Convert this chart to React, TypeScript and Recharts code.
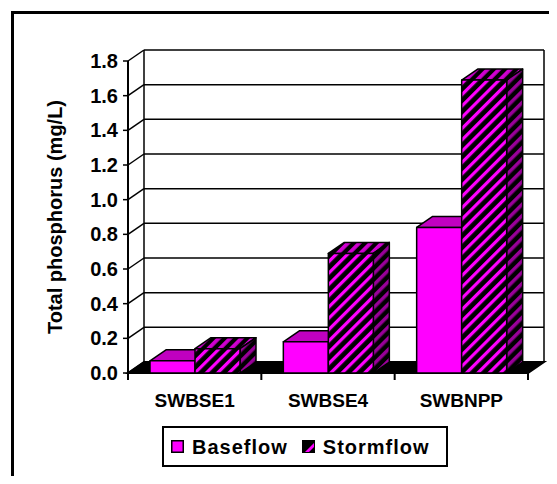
import {
  BarChart, Bar, XAxis, YAxis, CartesianGrid, ReferenceArea, Legend,
} from 'recharts';

// ── Data ──────────────────────────────────────────────────────────────────────

const sites = ['SWBSE1', 'SWBSE4', 'SWBNPP'];
const baseflow = [0.07, 0.18, 0.84];
const stormflow = [0.14, 0.69, 1.69];
const yTicks = [0, 0.2, 0.4, 0.6, 0.8, 1.0, 1.2, 1.4, 1.6, 1.8];

const data = sites.map((site, i) => ({
  site,
  baseflow: baseflow[i],
  stormflow: stormflow[i],
}));

const SERIES = [
  { key: 'baseflow', label: 'Baseflow' },
  { key: 'stormflow', label: 'Stormflow' },
];

// ── Styling ───────────────────────────────────────────────────────────────────

// offset of the back plane (pseudo 3D depth)
const DX = 16;
const DY = -11;

const FONT = '"Liberation Sans", Arial, Helvetica, sans-serif';
const MAGENTA = '#FF00FF';
const MAGENTA_DARK = '#C000C0';

// ── 3D bar shapes ─────────────────────────────────────────────────────────────

const block = (x: number, y: number, w: number, h: number, front: string, top: string, side: string) => {
  const line = { stroke: '#000', strokeWidth: 1.5, strokeLinejoin: 'round' as const };
  return (
    <g>
      <polygon
        points={`${x},${y} ${x + DX},${y + DY} ${x + w + DX},${y + DY} ${x + w},${y}`}
        fill={top}
        {...line}
      />
      <polygon
        points={`${x + w},${y} ${x + w + DX},${y + DY} ${x + w + DX},${y + h + DY} ${x + w},${y + h}`}
        fill={side}
        {...line}
      />
      <rect x={x} y={y} width={w} height={h} fill={front} {...line} />
    </g>
  );
};

const BaseBar = (p: any) =>
  block(p.x, p.y, p.width, p.height, MAGENTA, MAGENTA_DARK, MAGENTA_DARK);

const StormBar = (p: any) =>
  block(p.x, p.y, p.width, p.height, 'url(#hatchFront)', 'url(#hatchTop)', 'url(#hatchSide)');

// ── Back wall, floor and category ticks ───────────────────────────────────────

const WallFrame = (p: any) => {
  const { x, y, width, height } = p;
  const bottom = y + height;
  const n = sites.length;
  const edge = { stroke: '#000', strokeWidth: 1.5 };
  return (
    <g>
      <line x1={x + DX} y1={y + DY} x2={x + DX} y2={bottom + DY} {...edge} />
      <line x1={x + width + DX} y1={y + DY} x2={x + width + DX} y2={bottom + DY} {...edge} />
      <polygon
        points={`${x},${bottom} ${x + DX},${bottom + DY} ${x + width + DX},${bottom + DY} ${x + width},${bottom}`}
        fill="#000"
        stroke="#000"
        strokeWidth={2}
      />
      {Array.from({ length: n + 1 }, (_, i) => {
        const tx = x + (i * width) / n;
        return <line key={i} x1={tx} y1={bottom} x2={tx} y2={bottom + 7} stroke="#000" strokeWidth={2} />;
      })}
    </g>
  );
};

// gridline on the back wall plus the diagonal from the front axis
const GridLine = (p: any) => {
  const { x1, y1, x2 } = p;
  return (
    <g key={p.key}>
      <line x1={x1} y1={y1} x2={x1 + DX} y2={y1 + DY} stroke="#000" strokeWidth={1.5} />
      <line x1={x1 + DX} y1={y1 + DY} x2={x2 + DX} y2={y1 + DY} stroke="#000" strokeWidth={1.5} />
    </g>
  );
};

// ── Axis labels and legend ────────────────────────────────────────────────────

const SiteTick = (p: any) => (
  <text
    x={p.x}
    y={p.y + 34}
    textAnchor="middle"
    fontFamily={FONT}
    fontWeight="bold"
    fontSize={19}
    fill="#000"
  >
    {p.payload.value}
  </text>
);

const YTitle = (p: any) => {
  const vb = p.viewBox ?? { x: 40, y: 61, width: 88, height: 312 };
  const cx = vb.x + 15;
  const cy = vb.y + vb.height / 2;
  return (
    <text
      x={cx}
      y={cy}
      transform={`rotate(-90 ${cx} ${cy})`}
      textAnchor="middle"
      dominantBaseline="central"
      fontFamily={FONT}
      fontWeight="bold"
      fontSize={20}
      fill="#000"
    >
      Total phosphorus (mg/L)
    </text>
  );
};

const Swatch = ({ kind }: { kind: string }) => (
  <svg width={13} height={13} style={{ display: 'block', flexShrink: 0 }}>
    {kind === 'baseflow' ? (
      <rect x={0.75} y={0.75} width={11.5} height={11.5} fill={MAGENTA} stroke="#000" strokeWidth={1.5} />
    ) : (
      <g>
        <rect x={0.75} y={0.75} width={11.5} height={11.5} fill="#000" stroke="#000" strokeWidth={1.5} />
        <polygon points="3,12 12,3 12,7 7,12" fill={MAGENTA} />
      </g>
    )}
  </svg>
);

const LegendBox = () => (
  <div
    style={{
      boxSizing: 'border-box',
      width: 286,
      height: 41,
      border: '2px solid #000',
      background: '#fff',
      display: 'flex',
      alignItems: 'center',
      paddingLeft: 7,
      fontFamily: FONT,
      fontWeight: 'bold',
      fontSize: 20,
      letterSpacing: 1,
      color: '#000',
    }}
  >
    {SERIES.map((s, i) => (
      <div key={s.key} style={{ display: 'flex', alignItems: 'center', marginLeft: i === 0 ? 0 : 14 }}>
        <Swatch kind={s.key} />
        <span style={{ marginLeft: 8, lineHeight: '20px' }}>{s.label}</span>
      </div>
    ))}
  </div>
);

// ── Component ─────────────────────────────────────────────────────────────────

export default function App() {
  return (
    <div style={{ position: 'relative', width: 557, height: 484, margin: -8, overflow: 'hidden', background: '#fff' }}>
      {/* hatch fills for the storm flow bars */}
      <svg width={0} height={0} style={{ position: 'absolute' }}>
        <defs>
          <pattern id="hatchFront" patternUnits="userSpaceOnUse" width={8} height={8} patternTransform="rotate(45)">
            <rect width={8} height={8} fill="#000" />
            <rect width={3.2} height={8} fill={MAGENTA} />
          </pattern>
          <pattern id="hatchTop" patternUnits="userSpaceOnUse" width={8} height={8} patternTransform="rotate(45)">
            <rect width={8} height={8} fill="#000" />
            <rect width={3.8} height={8} fill="#D000D0" />
          </pattern>
          <pattern id="hatchSide" patternUnits="userSpaceOnUse" width={8} height={8} patternTransform="rotate(45)">
            <rect width={8} height={8} fill="#000" />
            <rect width={3.5} height={8} fill="#990099" />
          </pattern>
        </defs>
      </svg>

      {/* outer chart border */}
      <div
        style={{
          position: 'absolute', left: 11, top: 11, width: 600, height: 600,
          border: '3px solid #000',
        }}
      />

      <div style={{ position: 'absolute', left: 0, top: 0 }}>
        <BarChart
          width={557}
          height={484}
          data={data}
          margin={{ top: 61, right: 29, bottom: 81, left: 40 }}
          barCategoryGap={22}
          barGap={0}
        >
          <CartesianGrid horizontal={GridLine} vertical={false} />
          <ReferenceArea y1={0} y2={1.8} shape={WallFrame} ifOverflow="visible" />
          <XAxis
            dataKey="site"
            height={30}
            axisLine={false}
            tickLine={false}
            tickSize={0}
            tickMargin={0}
            tick={SiteTick}
            interval={0}
          />
          <YAxis
            width={88}
            domain={[0, 1.8]}
            ticks={yTicks}
            interval={0}
            tickFormatter={(v) => Number(v).toFixed(1)}
            tick={{ fontFamily: FONT, fontWeight: 'bold', fontSize: 20, fill: '#000' }}
            tickSize={5}
            tickMargin={5}
            axisLine={{ stroke: '#000', strokeWidth: 2 }}
            tickLine={{ stroke: '#000', strokeWidth: 1.5 }}
            label={{ content: YTitle }}
          />
          <Legend
            verticalAlign="middle"
            align="center"
            content={<LegendBox />}
            wrapperStyle={{ left: 162, top: 426, width: 286, height: 41 }}
          />
          <Bar dataKey="baseflow" name="Baseflow" fill={MAGENTA} shape={BaseBar} isAnimationActive={false} />
          <Bar dataKey="stormflow" name="Stormflow" fill="#000" shape={StormBar} isAnimationActive={false} />
        </BarChart>
      </div>
    </div>
  );
}
